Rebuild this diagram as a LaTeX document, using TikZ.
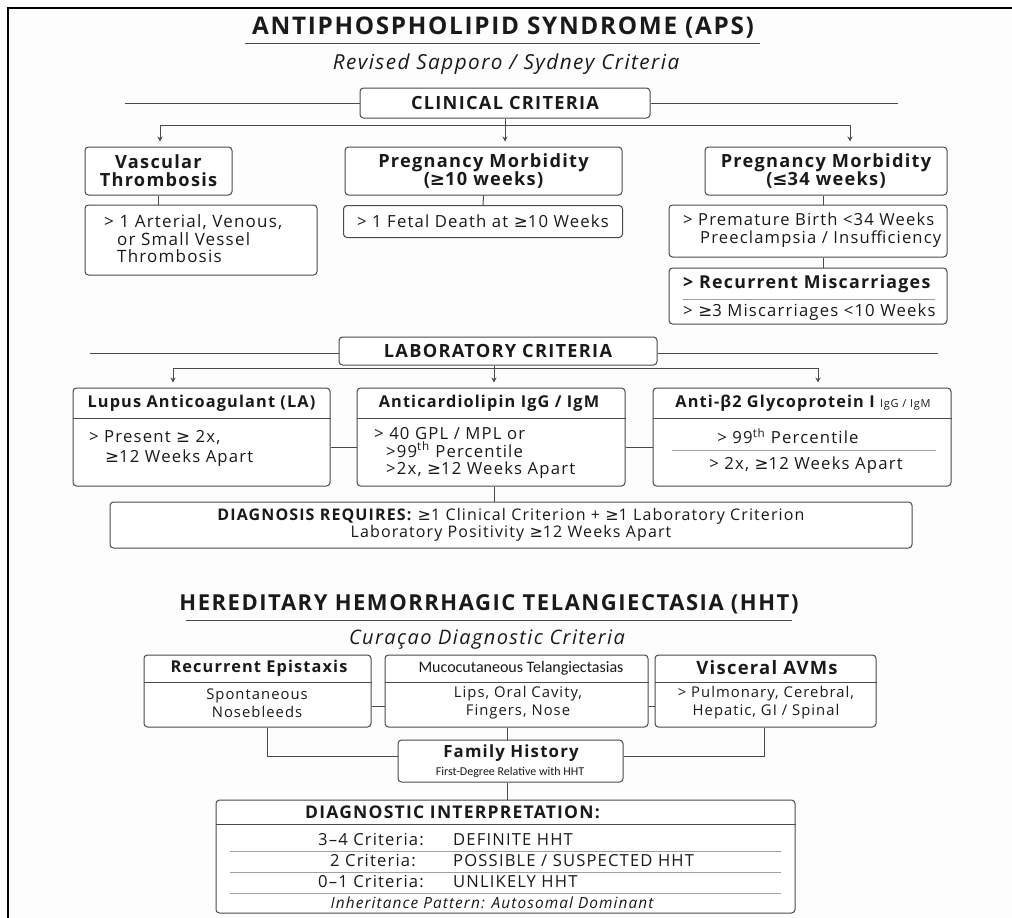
\documentclass[tikz,border=0pt]{standalone}
\usepackage{fontspec}
\setmainfont{Open Sans}[LetterSpace=7]
\newfontfamily\symf{DejaVu Sans}
\newfontfamily\calib{Carlito}
\usetikzlibrary{arrows.meta}
\definecolor{ink}{HTML}{1A1A1A}
\definecolor{edge}{HTML}{4A4A4A}
\definecolor{sepc}{HTML}{A0A0A0}
\definecolor{bg}{HTML}{FDFDFD}
\newcommand{\GE}{{\symf ≥}}
\newcommand{\LE}{{\symf ≤}}
\begin{document}
\begin{tikzpicture}[x=1pt,y=-1pt,
  bx/.style={draw=edge, line width=1pt, rounded corners=3.5pt, fill=white, inner sep=0pt, text=ink, align=center},
  ln/.style={draw=edge, line width=1pt},
  sepl/.style={draw=sepc, line width=0.8pt},
  arr/.style={ln, -{Stealth[length=5pt,width=5pt]}, shorten >=5pt},
  ttl/.style={font=\fontsize{24.3}{28}\selectfont\bfseries, text=ink, inner sep=0pt},
  subt/.style={font=\fontsize{20.7}{24}\selectfont\itshape, text=ink, inner sep=0pt},
  hd/.style={font=\fontsize{18.2}{20}\selectfont\bfseries},
  bd/.style={font=\fontsize{16.7}{19}\selectfont, text=ink, inner sep=0pt},
  tx/.style={text=ink, inner sep=0pt},
]
\useasboundingbox (0,0) rectangle (1012,918);
\fill[bg] (0,0) rectangle (1012,918);
\draw[line width=1.5pt, black] (8,918) -- (8,8) -- (1012,8);

% ---------------- APS ----------------
\node[ttl] (t1) at (503,28) {ANTIPHOSPHOLIPID SYNDROME (APS)};
\draw[ln] (245,43) -- (760,43);
\node[subt] (s1) at (506,64) {Revised Sapporo / Sydney Criteria};

\node[bx, hd, minimum width=290pt, minimum height=30pt] (clin) at (505,103) {CLINICAL CRITERIA};
\coordinate (cL) at (125,103);
\coordinate (cR) at (898,103);
\draw[ln] (cL) -- (clin.west);
\draw[ln] (clin.east) -- (cR);
\coordinate (cl) at (160,125);
\coordinate (cm) at (505,125);
\coordinate (cr) at (850,125);
\draw[ln] (clin.south) -- (cm);
\draw[ln] (cl) -- (cr);

\node[bx, hd, minimum width=147pt, minimum height=48pt] (vasc) at (158.5,171) {Vascular\\[-2pt]Thrombosis};
\node[bx, hd, minimum width=277pt, minimum height=48pt] (pm10) at (483.5,171) {Pregnancy Morbidity\\[-2pt](\GE10 weeks)};
\node[bx, hd, minimum width=242pt, minimum height=48pt] (pm34) at (826,171) {Pregnancy Morbidity\\[-2pt](\LE34 weeks)};
\draw[arr] (cl) -- (cl |- vasc.north);
\draw[arr] (cm) -- (cm |- pm10.north);
\draw[arr] (cr) -- (cr |- pm34.north);

\node[bx, minimum width=232pt, minimum height=70pt] (vascb) at (201,240) {};
\node[bd, anchor=west, align=left, font=\fontsize{17}{17.5}\selectfont] (vasct) at (104,239) {> 1 Arterial, Venous,\\\hspace*{13pt}or Small Vessel\\\hspace*{13pt}Thrombosis};
\draw[ln] (vasc.south) -- (vasc.south |- vascb.north);

\node[bx, bd, minimum width=279pt, minimum height=32pt] (pm10b) at (483,221.5) {> 1 Fetal Death at \GE10 Weeks};
\draw[ln] (pm10.south) -- (pm10b.north);

\node[bx, minimum width=278pt, minimum height=52pt] (pm34b) at (808,231) {};
\node[bd, anchor=west, align=left, font=\fontsize{16.6}{18}\selectfont] (pm34t) at (683,230) {> Premature Birth <34 Weeks\\\hspace*{17pt}Preeclampsia / Insufficiency};
\coordinate (p34) at (823,195);
\draw[ln] (p34 |- pm34.south) -- (p34 |- pm34b.north);

\node[bx, minimum width=278pt, minimum height=56pt] (rec) at (808,296) {};
\draw[ln] (p34 |- pm34b.south) -- (p34 |- rec.north);
\node[tx, anchor=west, font=\fontsize{17.8}{20}\selectfont\bfseries] (rect) at (683,284) {> Recurrent Miscarriages};
\draw[sepl] (683,299) -- (935,299);
\node[bd, anchor=west] (recb) at (683,312) {> \GE3 Miscarriages <10 Weeks};

% ---------------- Laboratory ----------------
\node[bx, hd, minimum width=318pt, minimum height=28pt] (lab) at (498,351) {LABORATORY CRITERIA};
\coordinate (lL) at (90,353);
\coordinate (lR) at (938,353);
\draw[ln] (lL) -- (lab.west |- lL);
\draw[ln] (lab.east |- lR) -- (lR);
\coordinate (ll) at (173,368);
\coordinate (lm) at (494,368);
\coordinate (lr) at (818,368);
\draw[ln] (lm |- lab.south) -- (lm);
\draw[ln] (ll) -- (lr);

\node[bx, minimum width=257pt, minimum height=98pt] (la) at (201.5,437) {};
\node[bx, minimum width=268pt, minimum height=98pt] (acl) at (491,437) {};
\node[bx, minimum width=298pt, minimum height=98pt] (b2) at (802,437) {};
\draw[arr] (ll) -- (ll |- la.north);
\draw[arr] (lm) -- (lm |- acl.north);
\draw[arr] (lr) -- (lr |- b2.north);

\draw[ln] (la.west |- 0,418) -- (la.east |- 0,418);
\draw[ln] (acl.west |- 0,418) -- (acl.east |- 0,418);
\draw[ln] (b2.west |- 0,418) -- (b2.east |- 0,418);

\node[tx, font=\fontsize{16.3}{18}\selectfont\bfseries] (lah) at (201.5,403) {Lupus Anticoagulant (LA)};
\node[tx, font=\fontsize{16.3}{18}\selectfont\bfseries] (aclh) at (489,403) {Anticardiolipin IgG / IgM};
\node[tx, font=\fontsize{16.3}{18}\selectfont\bfseries] (b2h) at (803,403) {Anti-β2 Glycoprotein I {\mdseries\fontsize{11}{12}\selectfont IgG / IgM}};

\node[bd, anchor=west, align=left, font=\fontsize{16.7}{20}\selectfont] (lat) at (89,448) {> Present \GE{} 2x,\\\hspace*{16pt}\GE{}12 Weeks Apart};
\node[bd, anchor=west, align=left, font=\fontsize{16.7}{17.5}\selectfont] (aclt) at (374,453) {> 40 GPL / MPL or\\\hspace*{12pt}>99\textsuperscript{th} Percentile\\\hspace*{12pt}>2x, \GE12 Weeks Apart};
\node[bd] (b2t1) at (788,436) {> 99\textsuperscript{th} Percentile};
\draw[sepl] (672,450) -- (936,450);
\node[bd] (b2t2) at (806,465) {> 2x, \GE12 Weeks Apart};

\coordinate (ly) at (0,447);
\draw[ln] (la.east |- ly) -- (acl.west |- ly);
\draw[ln] (acl.east |- ly) -- (b2.west |- ly);

\node[bx, minimum width=802pt, minimum height=46pt, font=\fontsize{16}{16.5}\selectfont] (dx) at (511,525) {\textbf{DIAGNOSIS REQUIRES:} \GE1 Clinical Criterion + \GE1 Laboratory Criterion\\Laboratory Positivity \GE12 Weeks Apart};
\draw[ln] (lm |- acl.south) -- (lm |- dx.north);

% ---------------- HHT ----------------
\node[ttl, font=\fontsize{22}{26}\selectfont\bfseries] (t2) at (489,604) {HEREDITARY HEMORRHAGIC TELANGIECTASIA (HHT)};
\draw[ln] (186,620) -- (792,620);
\node[subt, font=\fontsize{20}{24}\selectfont\itshape] (s2) at (487,640) {Curaçao Diagnostic Criteria};

\node[bx, minimum width=227pt, minimum height=72pt] (h1) at (257.5,691) {};
\node[bx, minimum width=263pt, minimum height=72pt] (h2) at (516.5,691) {};
\node[bx, minimum width=221pt, minimum height=72pt] (h3) at (765.5,691) {};
\draw[ln] (h1.west |- 0,682) -- (h1.east |- 0,682);
\draw[ln] (h2.west |- 0,682) -- (h2.east |- 0,682);
\draw[ln] (h3.west |- 0,682) -- (h3.east |- 0,682);
\node[tx, font=\fontsize{16.3}{19}\selectfont\bfseries] (h1h) at (259,668) {Recurrent Epistaxis};
\node[tx, font=\calib\fontsize{16}{18}\selectfont] (h2h) at (521,668) {Mucocutaneous Telangiectasias};
\node[tx, font=\fontsize{18.4}{19}\selectfont\bfseries] (h3h) at (767,668) {Visceral AVMs};
\node[bd, align=center, font=\fontsize{14.8}{18}\selectfont] (h1t) at (257,703) {Spontaneous\\Nosebleeds};
\node[bd, align=center, font=\fontsize{14.8}{18}\selectfont] (h2t) at (518,703) {Lips, Oral Cavity,\\Fingers, Nose};
\node[bd, align=center, font=\fontsize{14.8}{18}\selectfont] (h3t) at (766,703) {> Pulmonary, Cerebral,\\Hepatic, GI / Spinal};
\coordinate (hy) at (0,706);
\draw[ln] (h1.east |- hy) -- (h2.west |- hy);
\draw[ln] (h2.east |- hy) -- (h3.west |- hy);

\node[bx, minimum width=225pt, minimum height=42pt] (fh) at (510.5,761) {};
\node[tx, font=\fontsize{16.8}{19}\selectfont\bfseries] (fht) at (511,753) {Family History};
\node[tx, font=\calib\fontsize{12}{15}\selectfont] (fhs) at (510,772) {First-Degree Relative with HHT};
\coordinate (x1) at (267,756);
\coordinate (x3) at (764,756);
\draw[ln] (x1 |- h1.south) -- (x1) -- (fh.west |- x1);
\draw[ln] (x3 |- h3.south) -- (x3) -- (fh.east |- x3);
\coordinate (x2) at (507,0);
\draw[ln] (x2 |- h2.south) -- (x2 |- fh.north);

\node[bx, minimum width=579pt, minimum height=113pt] (di) at (505.5,856.5) {};
\draw[ln] (x2 |- fh.south) -- (x2 |- di.north);
\draw[ln] (di.west |- 0,824) -- (di.east |- 0,824);
\node[tx, anchor=west, font=\fontsize{17.5}{19}\selectfont\bfseries] (dih) at (305,812) {DIAGNOSTIC INTERPRETATION:};
\draw[sepl] (230,851) -- (781,851);
\draw[sepl] (230,872) -- (781,872);
\draw[sepl] (230,893) -- (781,893);
\node[tx, anchor=east, font=\fontsize{16.6}{18}\selectfont] (r1a) at (424,840) {3–4 Criteria:};
\node[tx, anchor=west, font=\fontsize{16.6}{18}\selectfont] (r1b) at (453,840) {DEFINITE HHT};
\node[tx, anchor=west, font=\fontsize{16.6}{18}\selectfont] (r2a) at (330,861) {2 Criteria:};
\node[tx, anchor=west, font=\fontsize{16.6}{18}\selectfont] (r2b) at (453,861) {POSSIBLE / SUSPECTED HHT};
\node[tx, anchor=east, font=\fontsize{16.6}{18}\selectfont] (r3a) at (424,882) {0–1 Criteria:};
\node[tx, anchor=west, font=\fontsize{16.6}{18}\selectfont] (r3b) at (453,882) {UNLIKELY HHT};
\node[tx, font=\fontsize{15.4}{16}\selectfont\itshape] (inh) at (492,903) {Inheritance Pattern: Autosomal Dominant};
\end{tikzpicture}
\end{document}
